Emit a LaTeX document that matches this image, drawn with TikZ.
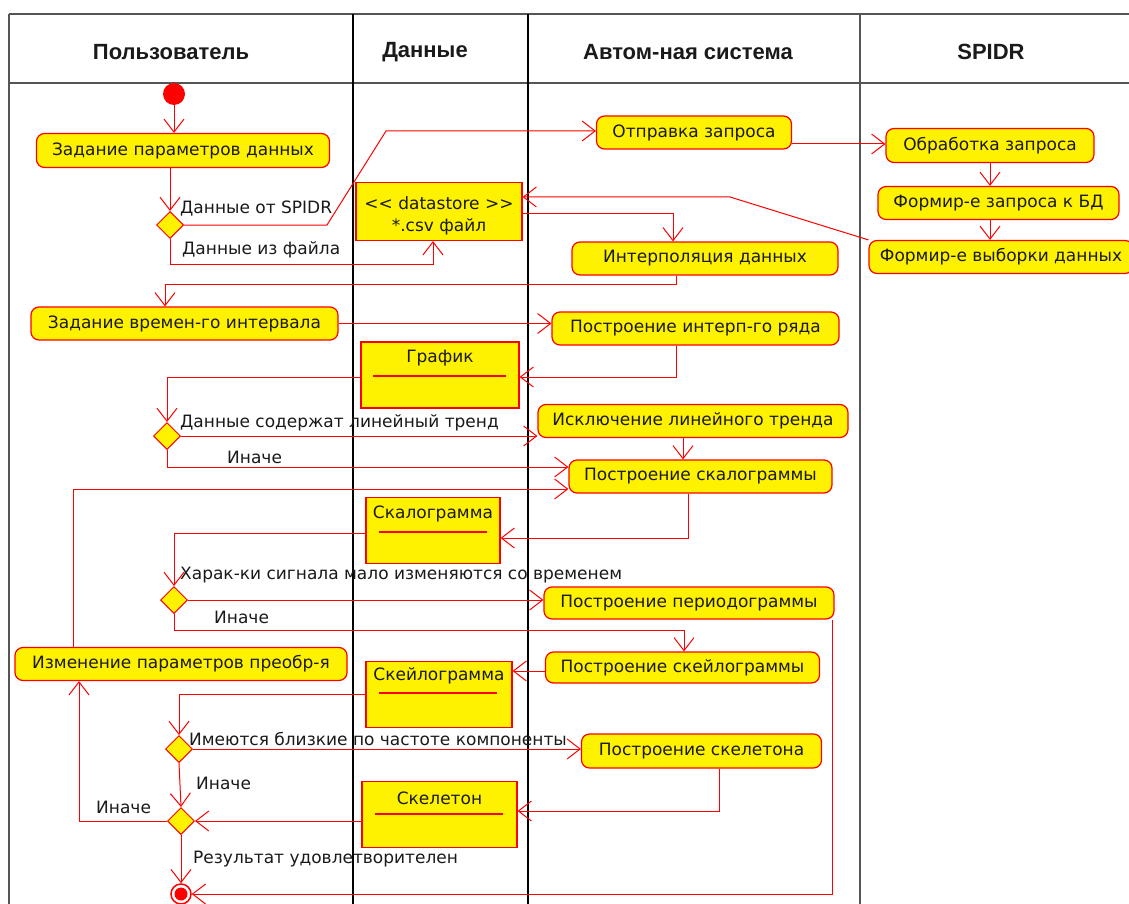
\documentclass[tikz,border=0pt]{standalone}
\usepackage{fontspec}
\setmainfont{DejaVu Sans}
\newfontfamily\hdrfont{Liberation Sans}
\usetikzlibrary{arrows.meta,shapes.geometric}
\definecolor{txt}{HTML}{1A1A1A}
\definecolor{frame}{HTML}{555555}
\begin{document}
\begin{tikzpicture}[x=1pt,y=-1pt,
  bodyfont/.style={font=\fontsize{17}{20}\selectfont, text=txt},
  act/.style={draw=red, fill=yellow, rounded corners=8pt, line width=1.2pt, inner sep=0, bodyfont},
  obj/.style={draw=red, fill=yellow, line width=1.2pt, inner sep=0},
  dec/.style={diamond, draw=red, fill=yellow, line width=1pt, minimum width=27pt, minimum height=27pt, inner sep=0},
  conn/.style={draw=red, line width=1pt, -{Straight Barb[length=13pt,width=20pt]}},
  lbl/.style={inner sep=0, anchor=west, bodyfont},
  ttl/.style={inner sep=0, bodyfont},
  hdr/.style={inner sep=0, font=\hdrfont\bfseries\fontsize{22}{25}\selectfont, text=txt},
  objline/.style={draw=red, line width=1.2pt}
]
\useasboundingbox (0,0) rectangle (1129,904);
\fill[white] (0,0) rectangle (1129,904);

% swimlane frame
\draw[frame, line width=2pt] (9,14) -- (1129,14);
\draw[frame, line width=2pt] (9,83) -- (1129,83);
\draw[frame, line width=2pt] (9,14) -- (9,904);
\draw[black, line width=2.6pt] (353,14) -- (353,904);
\draw[black, line width=1.3pt] (528,14) -- (528,904);
\draw[frame, line width=2pt] (860,14) -- (860,904);

\node[hdr] (h1) at (171,52) {Пользователь};
\node[hdr] (h2) at (425,52) {Данные};
\node[hdr] (h3) at (688,52) {Автом-ная система};
\node[hdr] (h4) at (991,52) {SPIDR};

% start / end
\node[circle, fill=red, minimum size=22pt, inner sep=0] (start) at (174,94) {};
\node[circle, draw=red, fill=white, line width=1.5pt, minimum size=20pt, inner sep=0] (endc) at (181,894) {};
\node[circle, fill=red, minimum size=13pt, inner sep=0] (endin) at (181,894) {};

% activities
\node[act, minimum width=293pt, minimum height=34pt] (a1) at (183,150.5) {Задание параметров данных};
\node[act, minimum width=195pt, minimum height=33pt] (sendq) at (694,132.5) {Отправка запроса};
\node[act, minimum width=208pt, minimum height=34pt] (procq) at (990,145.5) {Обработка запроса};
\node[act, minimum width=241pt, minimum height=33pt] (formq) at (998.5,203) {Формир-е запроса к БД};
\node[act, minimum width=264pt, minimum height=33pt] (forms) at (1001,257) {Формир-е выборки данных};
\node[act, minimum width=266pt, minimum height=33pt] (interp) at (705,258.5) {Интерполяция данных};
\node[act, minimum width=307pt, minimum height=33pt] (a2) at (184.5,323.5) {Задание времен-го интервала};
\node[act, minimum width=287pt, minimum height=33pt] (buildI) at (695.5,328.5) {Построение интерп-го ряда};
\node[act, minimum width=310pt, minimum height=33pt] (excl) at (693,421) {Исключение линейного тренда};
\node[act, minimum width=263pt, minimum height=33pt] (scal) at (700.5,476.5) {Построение скалограммы};
\node[act, minimum width=290pt, minimum height=32pt] (period) at (689,603) {Построение периодограммы};
\node[act, minimum width=332pt, minimum height=33pt] (change) at (181,664) {Изменение параметров преобр-я};
\node[act, minimum width=274pt, minimum height=31pt] (skeil) at (682.5,667.5) {Построение скейлограммы};
\node[act, minimum width=240pt, minimum height=34pt] (skel) at (701.5,751) {Построение скелетона};

% object nodes
\node[obj, minimum width=166pt, minimum height=58pt] (ds) at (439,211.5) {};
\node[ttl] (dsT1) at (439,203) {<\kern0pt< datastore >\kern0pt>};
\node[ttl] (dsT2) at (439,227) {*.csv файл};
\node[obj, minimum width=158pt, minimum height=66pt] (graph) at (440,375) {};
\node[ttl] (graphT) at (440,358) {График};
\draw[objline] (373,376) -- (506,376);
\node[obj, minimum width=134pt, minimum height=66pt] (scalObj) at (433,530.5) {};
\node[ttl] (scalT) at (433,514) {Скалограмма};
\draw[objline] (379,532) -- (487,532);
\node[obj, minimum width=146pt, minimum height=66pt] (skeilObj) at (439,694.5) {};
\node[ttl] (skeilT) at (439,676) {Скейлограмма};
\draw[objline] (379,693) -- (497,693);
\node[obj, minimum width=155pt, minimum height=66pt] (skelObj) at (439.5,814.5) {};
\node[ttl] (skelT) at (439.5,798) {Скелетон};
\draw[objline] (375,814) -- (503,814);

% decisions
\node[dec] (d1) at (170,225) {};
\node[dec] (d2) at (167,436) {};
\node[dec] (d3) at (174,600) {};
\node[dec] (d4) at (179,749) {};
\node[dec] (d5) at (181,821) {};

% connectors
\draw[conn] (start.south) -- (start.south |- a1.north);
\draw[conn] (a1.south -| d1.north) -- (d1.north);
\draw[conn] (d1.east) -- (327,225) -- (386,131) -- (sendq.west |- 0,131);
\draw[conn] (d1.south) -- (170,264) -| (ds.south -| 433,0);
\draw[conn] (sendq.east |- 0,144) -- (procq.west |- 0,144);
\draw[conn] (procq.south -| 990,0) -- (formq.north -| 990,0);
\draw[conn] (formq.south -| 990,0) -- (forms.north -| 990,0);
\draw[conn] (forms.north west) -- (730,197) -- (ds.east |- 0,197);
\draw[conn] (ds.east |- 0,213) -| (interp.north -| 673,0);
\draw[conn] (interp.south -| 676,0) -- (676,284) -| (a2.north -| 165,0);
\draw[conn] (a2.east) -- (a2.east -| buildI.west);
\draw[conn] (buildI.south -| 676,0) |- (graph.east |- 0,377);
\draw[conn] (graph.west |- 0,377) -| (d2.north);
\draw[conn] (d2.east) -- (d2.east -| excl.west);
\draw[conn] (d2.south) |- (scal.west |- 0,467);
\draw[conn] (excl.south -| 683,0) -- (scal.north -| 683,0);
\draw[conn] (change.north -| 73,0) |- (scal.west |- 0,489);
\draw[conn] (scal.south -| 688,0) |- (scalObj.east |- 0,538);
\draw[conn] (scalObj.west |- 0,533) -| (d3.north);
\draw[conn] (d3.east) -- (d3.east -| period.west);
\draw[conn] (d3.south) |- (684,630) -- (skeil.north -| 684,0);
\draw[conn] (skeil.west |- 0,671) -- (skeilObj.east |- 0,671);
\draw[conn] (skeilObj.west) -| (d4.north);
\draw[conn] (d4.east) -- (d4.east -| skel.west);
\draw[conn] (d4.south) -- (d5.north);
\draw[conn] (skel.south -| 719,0) |- (skelObj.east |- 0,811);
\draw[conn] (skelObj.west |- d5.east) -- (d5.east);
\draw[conn] (d5.west) -| (change.south -| 79,0);
\draw[conn] (d5.south) -- (endc.north);
\draw[conn] (period.south -| 832,0) |- (endc.east);

% guard labels
\node[lbl] (l1) at (180,209) {Данные от SPIDR};
\node[lbl] (l2) at (182,250) {Данные из файла};
\node[lbl] (l3) at (180,423) {Данные содержат линейный тренд};
\node[lbl] (l4) at (227,457) {Иначе};
\node[lbl] (l5) at (180,575) {Харак-ки сигнала мало изменяются со временем};
\node[lbl] (l6) at (214,617) {Иначе};
\node[lbl] (l7) at (189,739) {Имеются близкие по частоте компоненты};
\node[lbl] (l8) at (196,783) {Иначе};
\node[lbl] (l9) at (96,807) {Иначе};
\node[lbl] (l10) at (193,859) {Результат удовлетворителен};
\end{tikzpicture}
\end{document}
